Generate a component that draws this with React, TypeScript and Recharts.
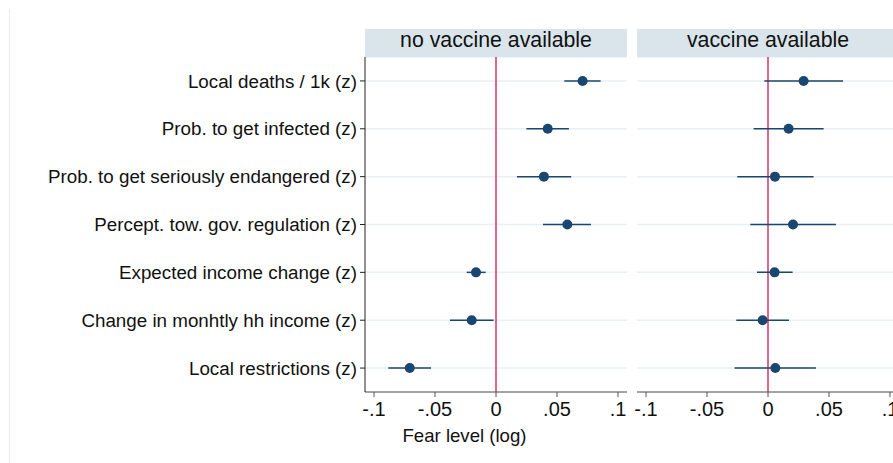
import React from "react";
import {
  ScatterChart,
  Scatter,
  XAxis,
  YAxis,
  CartesianGrid,
  ReferenceLine,
  ErrorBar,
} from "recharts";

// ---- data ----
const categories = [
  "Local deaths / 1k (z)",
  "Prob. to get infected (z)",
  "Prob. to get seriously endangered (z)",
  "Percept. tow. gov. regulation (z)",
  "Expected income change (z)",
  "Change in monhtly hh income (z)",
  "Local restrictions (z)",
];

const panelTitles = ["no vaccine available", "vaccine available"];

const noVaccineEst = [0.071, 0.0424, 0.0393, 0.0585, -0.0164, -0.0199, -0.0707];
const noVaccineLow = [0.056, 0.0249, 0.0172, 0.0385, -0.024, -0.0377, -0.0883];
const noVaccineHigh = [0.0858, 0.0598, 0.0617, 0.0779, -0.0085, -0.0019, -0.0533];

const vaccineEst = [0.0292, 0.0169, 0.0057, 0.0205, 0.0054, -0.0044, 0.006];
const vaccineLow = [-0.003, -0.0118, -0.0252, -0.0145, -0.009, -0.026, -0.0274];
const vaccineHigh = [0.0615, 0.0456, 0.0374, 0.0557, 0.0202, 0.0172, 0.0393];

const xTicks = [-0.1, -0.05, 0, 0.05, 0.1];
const xTickLabels = ["-.1", "-.05", "0", ".05", ".1"];
const axisTitle = "Fear level (log)";

// ---- styling ----
const NAVY = "#1a476f";
const RED = "#d6336a";
const GRID = "#e8f0f2";
const STRIP = "#d9e5ea";
const AXIS = "#555";
const FONT = "'Liberation Sans', Arial, Helvetica, sans-serif";
const X_DOMAIN: [number, number] = [-0.1074, 0.1074];
const Y_DOMAIN: [number, number] = [0.5, 7.5];
const rowTicks = categories.map((_, i) => i + 1);

const build = (est: number[], lo: number[], hi: number[]) =>
  est.map((e, i) => ({
    row: i + 1,
    est: e,
    err: [e - lo[i], hi[i] - e],
  }));

const dataNoVac = build(noVaccineEst, noVaccineLow, noVaccineHigh);
const dataVac = build(vaccineEst, vaccineLow, vaccineHigh);

const fmtX = (v: number) => {
  const idx = xTicks.findIndex((t) => Math.abs(t - v) < 1e-9);
  return idx >= 0 ? xTickLabels[idx] : String(v);
};
const fmtY = (v: number) => categories[Math.round(v) - 1] ?? "";

const Dot = (p: any) => <circle cx={p.cx} cy={p.cy} r={5} fill={NAVY} />;

const Panel = ({
  data,
  showY,
  width,
  margin,
}: {
  data: any[];
  showY: boolean;
  width: number;
  margin: any;
}) => (
  <ScatterChart width={width} height={463} margin={margin}>
    <CartesianGrid horizontal vertical={false} stroke={GRID} strokeWidth={1.5} />
    <XAxis
      type="number"
      dataKey="est"
      domain={X_DOMAIN}
      ticks={xTicks}
      interval={0}
      allowDataOverflow
      tickFormatter={fmtX}
      tickSize={5}
      tickMargin={5}
      height={71}
      axisLine={{ stroke: AXIS }}
      tickLine={{ stroke: AXIS }}
      tick={{ fill: "#111", fontSize: 20 }}
    />
    <YAxis
      type="number"
      dataKey="row"
      domain={Y_DOMAIN}
      ticks={rowTicks}
      interval={0}
      reversed
      allowDataOverflow
      hide={!showY}
      width={showY ? 365 : 0}
      tickFormatter={fmtY}
      tickSize={5}
      tickMargin={3}
      axisLine={{ stroke: "#222" }}
      tickLine={{ stroke: "#222" }}
      tick={{ fill: "#111", fontSize: 18.8 }}
    />
    <ReferenceLine x={0} stroke={RED} strokeWidth={1.5} />
    <Scatter data={data} shape={Dot} isAnimationActive={false}>
      <ErrorBar
        dataKey="err"
        direction="x"
        width={0}
        stroke={NAVY}
        strokeWidth={1.5}
        isAnimationActive={false}
      />
    </Scatter>
  </ScatterChart>
);

export default function App() {
  return (
    <div
      style={{
        position: "absolute",
        left: 0,
        top: 0,
        width: 893,
        height: 463,
        overflow: "hidden",
        background: "#fff",
        fontFamily: FONT,
      }}
    >
      <div
        style={{
          position: "absolute",
          left: 9,
          top: 9,
          height: 454,
          borderLeft: "1px solid #ececec",
        }}
      />
      <div style={{ position: "absolute", left: 0, top: 0 }}>
        <Panel
          data={dataNoVac}
          showY
          width={632}
          margin={{ top: 57, right: 5, bottom: 0, left: 0 }}
        />
      </div>
      <div style={{ position: "absolute", left: 632, top: 0 }}>
        <Panel
          data={dataVac}
          showY={false}
          width={267}
          margin={{ top: 57, right: 0, bottom: 0, left: 5 }}
        />
      </div>
      {panelTitles.map((t, i) => (
        <div
          key={t}
          style={{
            position: "absolute",
            left: i === 0 ? 365 : 637,
            top: 29,
            width: 262,
            height: 28,
            background: STRIP,
            textAlign: "center",
            fontSize: 21.3,
            lineHeight: "23px",
            color: "#111",
          }}
        >
          {t}
        </div>
      ))}
      <div
        style={{
          position: "absolute",
          left: 364.5,
          top: 425.6,
          width: 200,
          textAlign: "center",
          fontSize: 18.6,
          lineHeight: "20px",
          color: "#111",
        }}
      >
        {axisTitle}
      </div>
    </div>
  );
}
